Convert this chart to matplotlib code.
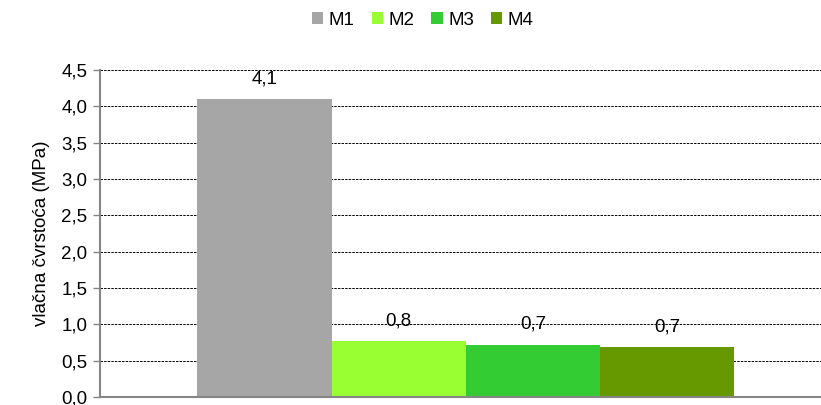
import matplotlib
matplotlib.use("Agg")
import matplotlib.pyplot as plt
import numpy as np

plt.rcParams['font.family'] = ['Liberation Sans', 'DejaVu Sans']

series = ['M1', 'M2', 'M3', 'M4']
values = [4.10, 0.77, 0.72, 0.69]
labels = ['4,1', '0,8', '0,7', '0,7']
colors = ['#a6a6a6', '#99ff33', '#33cc33', '#669900']
yticks = [0.0, 0.5, 1.0, 1.5, 2.0, 2.5, 3.0, 3.5, 4.0, 4.5]
ytick_labels = ['0,0', '0,5', '1,0', '1,5', '2,0', '2,5', '3,0', '3,5', '4,0', '4,5']

fig = plt.figure(figsize=(8.21, 4.05), dpi=100)
ax = fig.add_axes([0.1218, 0.0198, 0.886, 0.807])

width = 0.1845
offsets = (np.arange(len(series)) - 1.5) * width + 0.003
for off, v, lab, c, name in zip(offsets, values, labels, colors, series):
    ax.bar(off, v, width, color=c, label=name, zorder=2)
    ax.text(off, v + 0.28, lab, ha='center', va='center', fontsize=13.5)

ax.set_xlim(-0.5, 0.5)
ax.set_ylim(0, 4.5)
ax.set_xticks([])
ax.set_yticks(yticks)
ax.set_yticklabels(ytick_labels, fontsize=13.5)
ax.yaxis.grid(True, color='black', linestyle=(0, (2.5, 1.2)), linewidth=0.7, zorder=0)
ax.set_axisbelow(True)

for s in ['top', 'right']:
    ax.spines[s].set_visible(False)
for s in ['left', 'bottom']:
    ax.spines[s].set_color('#868686')
    ax.spines[s].set_linewidth(1.5)
ax.tick_params(axis='y', direction='out', length=5, color='#868686', width=1, pad=4)

ax.set_ylabel('vlačna čvrstoća (MPa)', fontsize=13.5, labelpad=8)

fig.legend(loc='center', bbox_to_anchor=(0.515, 0.95), ncol=4, frameon=False,
           fontsize=13.5, handlelength=0.6, handleheight=0.6, handletextpad=0.3,
           columnspacing=0.9)

plt.savefig('out.png', dpi=100)
